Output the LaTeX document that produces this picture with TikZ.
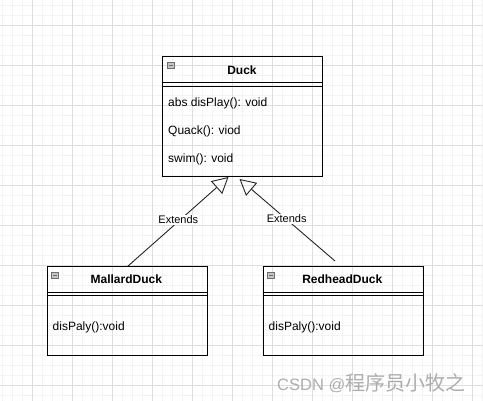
\documentclass[tikz,border=0pt]{standalone}
\usepackage{fontspec}
\setmainfont{Liberation Sans}
\newfontfamily\cjkfont{Noto Sans CJK SC}
\usetikzlibrary{arrows.meta,calc}
\definecolor{gridminor}{HTML}{F3F3F3}
\definecolor{gridmajor}{HTML}{DEDEDE}
\definecolor{iconfill}{HTML}{C4C4C4}
\definecolor{iconline}{HTML}{6E6E6E}
\tikzset{
  classbox/.style={draw=black, line width=1pt, inner sep=0pt, anchor=north west, minimum width=160pt},
  sepline/.style={draw=black, line width=1pt},
  titletext/.style={anchor=base, inner sep=0pt, font=\bfseries\fontsize{12}{14}\selectfont},
  methodtext/.style={anchor=base west, inner sep=0pt, font=\fontsize{12}{14}\selectfont},
  iconbox/.style={draw=iconline, fill=iconfill, line width=0.7pt, minimum width=7pt, minimum height=6pt, inner sep=0pt},
  extlabel/.style={fill=white, inner sep=1pt, font=\fontsize{11}{13}\selectfont},
  inherit/.style={draw=black!85, line width=0.9pt, -{Triangle[open, length=16pt, width=17pt]}},
}
\begin{document}
\begin{tikzpicture}[x=1pt,y=-1pt]
\useasboundingbox (0,0) rectangle (483,401);
\fill[white] (0,0) rectangle (483,401);
% grid
\foreach \x in {2,12,...,482} \draw[gridminor, line width=1pt] (\x,0) -- (\x,401);
\foreach \y in {6,16,...,396} \draw[gridminor, line width=1pt] (0,\y) -- (483,\y);
\foreach \x in {32,72,...,472} \draw[gridmajor, line width=1pt] (\x,0) -- (\x,401);
\foreach \y in {26,66,...,386} \draw[gridmajor, line width=1pt] (0,\y) -- (483,\y);

% Duck
\node[classbox, minimum height=120pt] (duck) at (162,56.5) {};
\draw[sepline] ($(duck.north west)+(0,26)$) -- ($(duck.north east)+(0,26)$);
\draw[sepline] ($(duck.north west)+(0,30)$) -- ($(duck.north east)+(0,30)$);
\node[iconbox] (duckicon) at ($(duck.north west)+(8.5,9)$) {};
\draw[iconline, line width=0.7pt] ($(duckicon.center)+(-2,0)$) -- ($(duckicon.center)+(2,0)$);
\node[titletext] (duckT) at (242,74.3) {Duck};
\node[methodtext] (dm1) at (168,107) {abs disPlay(): void};
\node[methodtext] (dm2) at (168,135) {Quack(): viod};
\node[methodtext] (dm3) at (168,163) {swim(): void};

% MallardDuck
\node[classbox, minimum height=89pt] (mallard) at (46.5,266.5) {};
\draw[sepline] ($(mallard.north west)+(0,26)$) -- ($(mallard.north east)+(0,26)$);
\draw[sepline] ($(mallard.north west)+(0,29.5)$) -- ($(mallard.north east)+(0,29.5)$);
\node[iconbox] (malicon) at ($(mallard.north west)+(8.5,9)$) {};
\draw[iconline, line width=0.7pt] ($(malicon.center)+(-2,0)$) -- ($(malicon.center)+(2,0)$);
\node[titletext] (malT) at (126.3,283.3) {MallardDuck};
\node[methodtext] (malm) at (52.5,331) {disPaly():void};

% RedheadDuck
\node[classbox, minimum height=89pt] (redhead) at (262.5,266.5) {};
\draw[sepline] ($(redhead.north west)+(0,26)$) -- ($(redhead.north east)+(0,26)$);
\draw[sepline] ($(redhead.north west)+(0,29.5)$) -- ($(redhead.north east)+(0,29.5)$);
\node[iconbox] (redicon) at ($(redhead.north west)+(8.5,9)$) {};
\draw[iconline, line width=0.7pt] ($(redicon.center)+(-2,0)$) -- ($(redicon.center)+(2,0)$);
\node[titletext] (redT) at (342.3,283.3) {RedheadDuck};
\node[methodtext] (redm) at (268.5,331) {disPaly():void};

% inheritance connectors
\coordinate (s1) at ($(mallard.north west)+(81,0)$);
\coordinate (t1) at ($(duck.south west)+(66.5,-0.5)$);
\coordinate (s2) at ($(redhead.north west)+(72.5,-5.5)$);
\coordinate (t2) at ($(duck.south west)+(77.5,1.5)$);
\draw[inherit] (s1) -- (t1);
\draw[inherit] (s2) -- (t2);
\node[extlabel] (l1) at (178.3,220) {Extends};
\node[extlabel] (l2) at (286.7,219) {Extends};

% watermark
\node[anchor=base west, inner sep=0pt, text=black!32] (wm) at (277,391)
  {\fontsize{16.5}{20}\selectfont CSDN @{\cjkfont\fontsize{20}{24}\selectfont 程序员小牧之}};
\end{tikzpicture}
\end{document}
